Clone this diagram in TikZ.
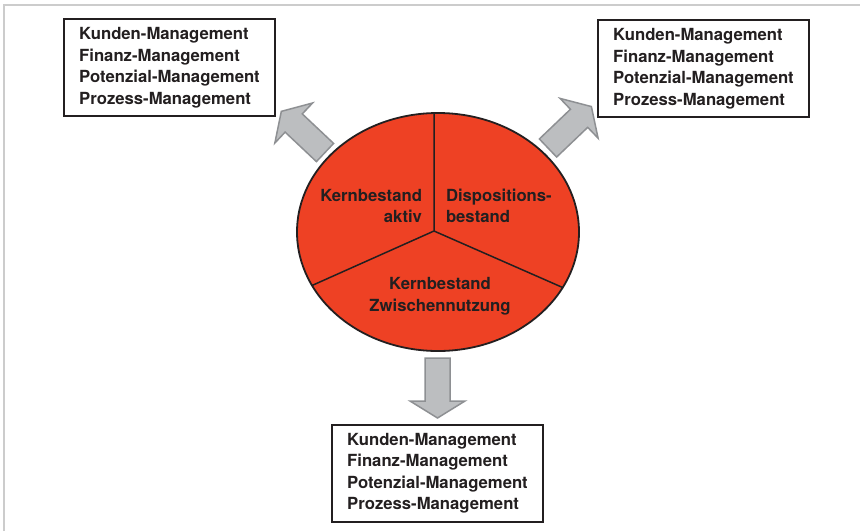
\documentclass[tikz,border=0pt]{standalone}
\usepackage{fontspec}
\setmainfont{TeX Gyre Heros}
\usetikzlibrary{shapes.geometric,calc}
\definecolor{pierot}{HTML}{EE4124}
\definecolor{ink}{HTML}{231F20}
\definecolor{pfeilgrau}{HTML}{BCBEC0}
\definecolor{pfeilrand}{HTML}{8E9093}
\definecolor{rahmen}{HTML}{CCCCCC}

\begin{document}
\begin{tikzpicture}[x=1pt,y=-1pt,inner sep=2pt,outer sep=0pt,
	every node/.style={font=\fontsize{16.7}{21.5}\selectfont\bfseries,text=ink},
	mbox/.style={draw=ink,line width=2pt,align=left,minimum width=211pt,minimum height=97pt},
	garrow/.style={fill=pfeilgrau,draw=pfeilrand,line width=1.5pt}]
	\useasboundingbox (0,0) rectangle (860,531);
	\draw[rahmen,line width=1.8pt] (4,531) -- (4,5) -- (860,5);
	\node[ellipse,fill=pierot,draw=ink,line width=1.8pt,minimum width=282pt,minimum height=238pt] (pie) at (438,232) {};
	\coordinate (m) at (434,231);
	\draw[ink,line width=1.5pt] (m |- pie.north) -- (m) -- (pie.203.75);
	\draw[ink,line width=1.5pt] (m) -- (pie.336.25);
	\node[align=right,anchor=east] (ka) at (424,206) {Kernbestand\\aktiv};
	\node[align=left,anchor=west]  (db) at (444,206) {Dispositions-\\bestand};
	\node[align=center]            (kz) at (440,296) {Kernbestand\\Zwischennutzung};
	\node[mbox] (links)  at (169.5,67.5) {Kunden-Management\\Finanz-Management\\Potenzial-Management\\Prozess-Management};
	\node[mbox] (rechts) at (703.5,68.5) {Kunden-Management\\Finanz-Management\\Potenzial-Management\\Prozess-Management};
	\node[mbox] (unten)  at (437.5,473)  {Kunden-Management\\Finanz-Management\\Potenzial-Management\\Prozess-Management};
	\foreach \x/\y/\w in {325/152.5/136.7,548/148/43.7,437.5/358/-90}
	\draw[garrow,shift={(\x,\y)},rotate=\w] (0,-12.5) -- (43,-12.5) -- (43,-27.5) -- (60,0) -- (43,27.5) -- (43,12.5) -- (0,12.5) -- cycle;
\end{tikzpicture}
\end{document}
